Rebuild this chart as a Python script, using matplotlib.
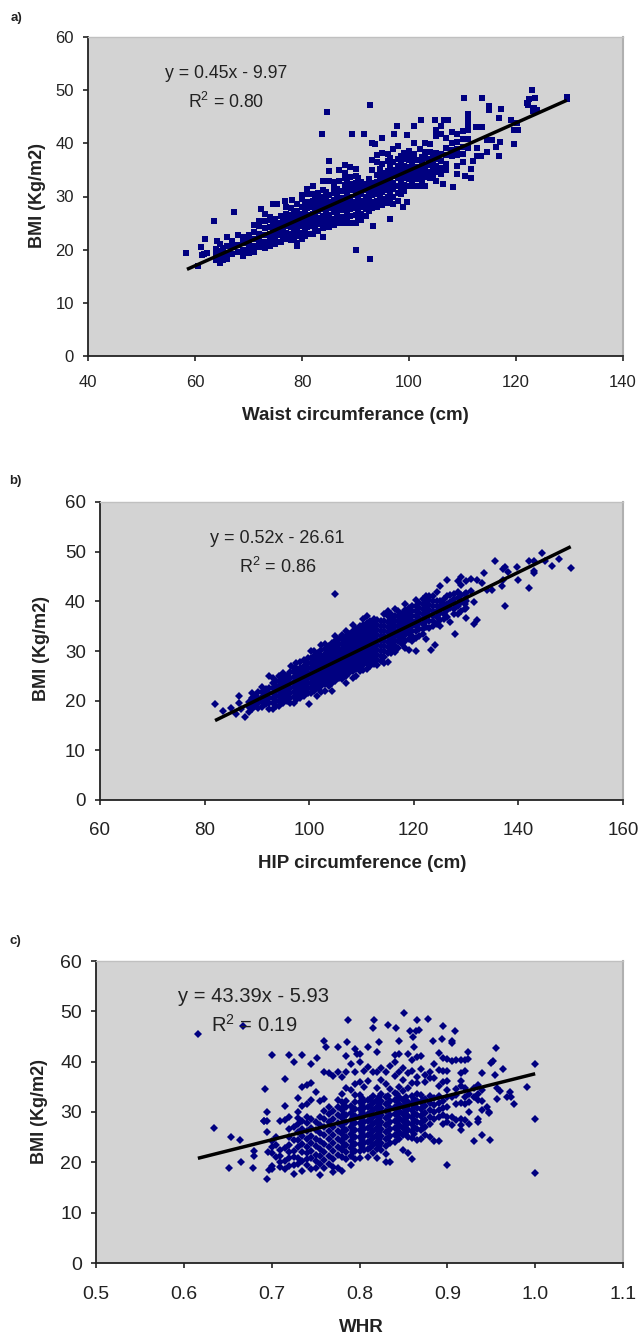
import matplotlib
matplotlib.use("Agg")
import matplotlib.pyplot as plt

plt.rcParams['font.family'] = ['Liberation Sans', 'DejaVu Sans']
plt.rcParams['mathtext.default'] = 'regular'

W, H = 641, 1336

# Panel a: waist vs BMI (column of points per waist value)
waist_rows = [
    (64, [18, 19, 20.2]), (64.6, [17.5, 18.6, 19.8, 21]), (65.3, [18, 19.2, 20.4]),
    (66, [18.2, 19.4, 20.6, 22.3]), (67, [19.2, 20.5, 21.7]), (68, [19.5, 20.8, 22.7]),
    (69, [18.8, 20, 21.2, 22.4]), (70, [19.3, 20.5, 21.7, 22.8]),
    (71, [19.5, 20.7, 22, 23.4, 24.6]), (72, [20.5, 21.7, 23, 24.4, 25.4]),
    (73, [20.3, 21.5, 22.8, 24, 25.3, 26.7]), (74, [20.6, 21.8, 23, 24.2, 25.5, 26.2]),
    (75, [21, 22.2, 23.4, 24.6, 25.8]), (76, [21.5, 22.7, 23.9, 25, 26.3]),
    (77, [22, 23.2, 24.4, 25.6, 26.8, 28]), (78, [21.8, 23, 24.2, 25.4, 26.6, 27.8]),
    (79, [20.6, 21.3, 22.5, 23.7, 24.9, 26.1, 27.3, 28.5]),
    (80, [22, 23.2, 24.4, 25.6, 26.8, 28, 29.5, 30.3]),
    (81, [23, 24.2, 25.4, 26.6, 27.8, 29, 30.5, 31.5]),
    (82, [23, 24.4, 25.6, 26.8, 28, 29.2, 30.4, 32]),
    (83, [23.5, 24.8, 26, 27.2, 28.4, 29.6, 30.6]),
    (84, [24, 25.2, 26.4, 27.6, 28.8, 30, 31.2, 33]),
    (85, [24.2, 25.4, 26.6, 27.8, 29, 30.2, 33, 34.8, 36.6]),
    (86, [24.6, 25.8, 27, 28.2, 29.4, 30.6, 31.8, 32.8]),
    (87, [25, 26.2, 27.4, 28.6, 29.8, 31, 33, 35]),
    (88, [25, 26.2, 27.4, 28.6, 29.8, 31, 32.2, 33.4, 34.4, 36]),
    (89, [25, 26.4, 27.6, 28.8, 30, 31.2, 32.4, 33.6, 35.5]),
    (90, [25, 26.6, 27.8, 29, 30.2, 31.4, 32.6, 33.8, 35.2]),
    (91, [25.6, 26.8, 28, 29.2, 30.4, 31.6, 32.8]),
    (92, [26.4, 27.6, 28.8, 30, 31.2, 32.4]),
    (93, [27.8, 29, 30.2, 31.4, 32.6, 35, 36.8]),
    (94, [28, 29.2, 30.4, 31.6, 32.8, 34, 36.5, 37.8]),
    (95, [28.4, 29.6, 30.8, 32, 33.2, 34.4, 36.2, 38.2]),
    (96, [28.8, 30, 31.2, 32.4, 33.6, 34.8, 36.6, 38]),
    (97, [28.5, 30, 31.4, 32.6, 33.8, 35, 36.4, 39]),
    (98, [29.2, 30.6, 32, 33.4, 34.6, 35.8, 37, 39.5]),
    (99, [31, 32.2, 33.4, 34.6, 35.8, 37, 38.2]),
    (100, [32, 33.2, 34.4, 35.6, 36.8, 38, 38.6]),
    (101, [32, 33.2, 34.4, 35.6, 36.8, 38, 40]),
    (102, [32, 33.2, 34.4, 35.6, 36.8, 39]),
    (103, [32, 33.6, 34.8, 36, 37.2, 38.4, 40]),
    (104, [33.5, 34.7, 35.9, 37.1, 38.3, 39.8]),
    (105, [33, 34.6, 35.8, 37, 38.2, 41.3, 42.5]),
    (106, [34.2, 35.4, 36.6, 38, 41.8, 43.2]),
    (107, [35, 36.2, 37.8, 39.2, 41]),
    (108, [37.6, 38.8, 40, 42.2]),
    (109, [34.3, 35.7, 37.8, 39, 40.2, 41.8]),
    (110, [36.4, 38, 39.4, 40.8, 42.4]),
    (111, [39.2, 40.8, 42.5, 43.5, 44.5, 45.5]),
]
waist_fill_rows = [
    (74.5, [21.2, 22.4, 23.6, 24.8]), (76.5, [22.1, 23.3, 24.5, 25.7]), (78.5, [22.4, 23.6, 24.8, 26, 27.2]),
    (80.5, [22.6, 23.8, 25, 26.2, 27.4, 28.6]), (82.5, [24, 25.2, 26.4, 27.6, 28.8, 30]),
    (84.5, [24.8, 26, 27.2, 28.4, 29.6, 30.8]), (86.5, [25.4, 26.6, 27.8, 29, 30.2, 31.4]),
    (88.5, [25.6, 26.8, 28, 29.2, 30.4, 31.6, 32.8]), (90.5, [26.2, 27.4, 28.6, 29.8, 31, 32.2, 33.4]),
    (92.5, [27.2, 28.4, 29.6, 30.8, 32, 33.2]), (94.5, [29, 30.2, 31.4, 32.6, 33.8, 35.2]),
    (96.5, [29.6, 30.8, 32, 33.2, 34.4, 35.6, 37.2]), (98.5, [30.4, 31.6, 32.8, 34, 35.2, 36.4, 37.6]),
    (100.5, [32.6, 33.8, 35, 36.2, 37.4]), (102.5, [32.6, 33.8, 35, 36.2, 37.4]),
    (104.5, [34, 35.2, 36.4, 37.6]),
]
waist_extra_x = [58.3, 60.5, 61.2, 61.3, 61.7, 61.8, 62.3, 63.5, 64.2, 67.2, 72.3, 74.5, 75.3, 76.8, 78.2,
                 84.7, 83.7, 92.8, 89.3, 91.6, 93, 93.6, 95, 97.2, 97.8, 99.7, 100.9, 102.3, 104.8, 106.5,
                 107.2, 110.3, 113.7, 115, 115, 117.2, 116.9, 119, 120.2, 119.7, 120.3, 119.7, 117, 116.9,
                 122, 122.5, 123, 123.3, 123.6, 123.2, 124, 129.6, 129.6, 90, 92.8, 96.4, 93.3, 84, 98.9,
                 99.7, 108.3, 106.4, 110.5, 111.6, 111.5, 111.9, 114.5, 113.5, 112.8, 112.8, 112.5, 113.7,
                 114.5, 115.5, 116.2, 122.3, 81, 82.5]
waist_extra_bmi = [19.3, 17, 20.5, 19, 19.2, 22, 19.4, 25.3, 21.7, 27.1, 27.7, 28.5, 28.5, 29.1, 29.4,
                   45.9, 41.8, 47.3, 41.8, 41.8, 40, 39.8, 41, 41.8, 43.2, 41.5, 43.2, 44.4, 44.4, 44.4,
                   44.4, 48.5, 48.5, 47, 46.3, 46.5, 44.7, 44.4, 43.9, 42.5, 42.5, 39.8, 40.3, 37.7,
                   47.5, 48.3, 50, 46.7, 48.5, 46, 46.3, 48.7, 48.4, 20, 18.2, 25.7, 24.5, 22.3, 28,
                   29, 31.8, 32.3, 33.8, 33.5, 35.2, 36.6, 38.3, 37.7, 37.7, 39.2, 43, 43, 40.6, 40.6, 39.3, 47.2,
                   23, 23.5]
waist_line_x = [58.5, 129.5]
waist_line_bmi = [16.3, 48.1]

# Panel b: hip vs BMI
hip_rows = [
    (88.4, [17.8, 18.8, 19.8]), (89, [18.4, 19.4, 20.5, 21.5]), (90.3, [18.6, 19.6, 20.6, 21.8]),
    (91, [18.8, 19.8, 20.8, 21.8, 22.8]), (92.4, [18.4, 19.6, 20.6, 21.6, 22.6]),
    (93, [18.4, 19.5, 20.5, 21.5, 22.5, 23.6, 24.6]), (94.3, [19, 20, 21, 22, 23, 24, 25]),
    (95, [19.5, 20.5, 21.5, 22.5, 23.5, 24.5, 25.5]), (96.4, [19.5, 20.6, 21.6, 22.6, 23.6, 24.6, 25.8]),
    (97, [19.6, 20.8, 21.8, 22.8, 23.8, 24.8, 25.8, 26.6]), (98.3, [20.6, 21.6, 22.6, 23.6, 24.6, 25.6, 26.6, 27.8]),
    (99, [21, 22, 23, 24, 25, 26, 27, 28.2]), (100.4, [21.6, 22.6, 23.6, 24.6, 25.6, 26.6, 27.6, 28.6, 30]),
    (101, [22, 23, 24, 25, 26, 27, 28, 29, 30]), (102.3, [21.8, 23, 24, 25, 26, 27, 28, 29, 30.2, 31.2]),
    (103, [22, 23.4, 24.4, 25.4, 26.4, 27.4, 28.4, 29.4, 30.4, 31.4]),
    (104.4, [22, 23.6, 24.6, 25.6, 26.6, 27.6, 28.6, 29.6, 30.6, 31.6]),
    (105, [24, 25, 26, 27, 28, 29, 30, 31, 32, 33]),
    (106.3, [24.4, 25.4, 26.4, 27.4, 28.4, 29.4, 30.4, 31.4, 32.4, 33.2]),
    (107, [23.6, 25, 26, 27, 28, 29, 30, 31, 32, 33, 34]),
    (108.4, [24.6, 26, 27, 28, 29, 30, 31, 32, 33, 34, 35.2]),
    (109, [25, 26.4, 27.4, 28.4, 29.4, 30.4, 31.4, 32.4, 33.4, 34.4]),
    (110.3, [26.2, 27.2, 28.2, 29.2, 30.2, 31.2, 32.2, 33.2, 34.2, 35.2, 36.5]),
    (111, [26.4, 27.6, 28.6, 29.6, 30.6, 31.6, 32.6, 33.6, 34.6, 35.6, 37]),
    (112.4, [27.4, 28.6, 29.6, 30.6, 31.6, 32.6, 33.6, 34.6, 35.6, 36.4]),
    (113, [27.2, 28.2, 29.2, 30.2, 31.2, 32.2, 33.2, 34.2, 35.2, 36.2]),
    (114.3, [27.6, 28.8, 30, 31, 32, 33, 34, 35, 36, 37.4]),
    (115, [27.8, 29.6, 30.8, 31.8, 32.8, 33.8, 34.8, 35.8, 37, 38]),
    (116.4, [29.8, 31, 32, 33, 34, 35, 36, 37, 38.4]),
    (117, [30.6, 32, 33, 34, 35, 36, 37, 38]),
    (118.3, [30.6, 32, 33.2, 34.2, 35.2, 36.2, 37.2, 38.2, 39.5]),
    (119, [30.2, 32.4, 33.6, 34.6, 35.6, 36.6, 37.6, 38.6]),
    (120.4, [30, 32.6, 34, 35, 36, 37, 38, 39, 40.2]),
    (121, [33, 34.4, 35.6, 36.6, 37.6, 38.6, 39.6]),
    (122.3, [32.5, 34.8, 36, 37, 38, 39, 40, 41]),
    (123, [34.6, 36, 37.2, 38.2, 39.2, 40.2, 41]),
    (124.4, [35.4, 36.8, 38, 39, 40, 41.8]),
    (125, [35, 36.2, 37.6, 38.8, 40, 43]),
    (126.3, [36.8, 38.2, 39.4, 41, 44.2]),
    (127, [35.8, 38.6, 39.8, 41.2]),
    (128.4, [37.4, 39, 40.6, 41.8, 44]),
    (129, [38, 39.8, 41.2, 43.2, 45]),
    (130, [36.6, 38.6, 40, 41.6, 44]),
]
hip_fill_rows = [
    (89.7, [18.9, 19.9, 21]), (91.7, [19.3, 20.3, 21.3, 22.3]), (93.7, [19, 20, 21, 22, 23, 24]),
    (95.7, [20, 21, 22, 23, 24, 25]), (97.7, [20.3, 21.3, 22.3, 23.3, 24.3, 25.3, 26.3]),
    (99.7, [21.5, 22.5, 23.5, 24.5, 25.5, 26.5, 27.5, 28.5]), (101.7, [22.5, 23.5, 24.5, 25.5, 26.5, 27.5, 28.5, 29.5]),
    (103.7, [23, 24, 25, 26, 27, 28, 29, 30, 31]), (105.7, [24.5, 25.5, 26.5, 27.5, 28.5, 29.5, 30.5, 31.5, 32.5]),
    (107.7, [25.5, 26.5, 27.5, 28.5, 29.5, 30.5, 31.5, 32.5, 33.5]), (109.7, [26, 27, 28, 29, 30, 31, 32, 33, 34, 35]),
    (111.7, [27, 28, 29, 30, 31, 32, 33, 34, 35, 36]), (113.7, [28, 29, 30, 31, 32, 33, 34, 35, 36]),
    (115.7, [29.5, 30.5, 31.5, 32.5, 33.5, 34.5, 35.5, 36.5, 37.5]), (117.7, [31.5, 32.5, 33.5, 34.5, 35.5, 36.5, 37.5]),
    (119.7, [32, 33, 34, 35, 36, 37, 38, 39]), (121.7, [33.5, 34.5, 35.5, 36.5, 37.5, 38.5, 39.5, 40.5]),
    (123.7, [35, 36, 37, 38, 39, 40, 41]), (125.7, [36.5, 37.5, 38.5, 39.5, 40.5]),
    (127.7, [37.5, 38.5, 39.5, 40.5, 41.5]), (129.7, [38.5, 39.5, 40.5, 41.5]),
]
hip_extra_x = [82, 83.5, 85, 86, 86.5, 86.5, 87.7, 87, 92.3, 100, 101.5, 105, 123.2, 124, 127.8, 131.5, 132,
               137.5, 142, 135.5, 137, 137.5, 138, 139.8, 140, 142, 143, 143, 143, 144.5, 145, 146.5, 147.8,
               150, 133.5, 131, 132, 133, 134, 135, 136.8, 137, 131, 131.5, 96.5, 97.5]
hip_extra_bmi = [19.4, 18, 18.5, 17.3, 19.5, 21, 16.7, 18.4, 25, 19.4, 21, 41.5, 30.3, 31.2, 33.4, 35.5, 36.2,
                 39, 42.7, 48.2, 46.5, 47, 46, 47, 44.2, 48.2, 48.2, 46.2, 45.7, 49.7, 48.2, 47.2, 48.5,
                 46.7, 45.8, 44.5, 44.2, 43.7, 42.2, 42.2, 43, 44.2, 42, 39.8, 27, 27.5]
hip_line_x = [82, 150]
hip_line_bmi = [16, 51]

# Panel c: WHR vs BMI
whr_rows = [
    (0.70, [18.6, 19.2, 21.8, 23, 24.2]), (0.705, [21, 23.5, 25]),
    (0.71, [19, 20, 21.2, 22.4, 28.3]), (0.715, [18.6, 20.2, 22.8, 28.4, 31.2, 36.5]),
    (0.72, [19.2, 20.8, 22, 23.4, 25, 26.6, 29]), (0.725, [17.7, 19.4, 21, 22.2, 24.4, 27]),
    (0.73, [19.6, 20.8, 23, 24.4, 26, 27.6, 28.8, 30, 32.7]), (0.735, [18.2, 20.2, 22, 23.6, 25.2, 26.6, 28.2, 31.2, 35]),
    (0.74, [19.4, 20.6, 21.8, 23, 24.6, 26.2, 27.8, 29, 31.6, 35.4]),
    (0.745, [18.6, 20.8, 22.2, 23.8, 25.2, 26.8, 28.6, 32.4, 35.8]),
    (0.75, [18.8, 20.2, 21.4, 23.2, 24.6, 26.4, 28, 34]),
    (0.755, [17.4, 19.6, 21.2, 22.6, 24.2, 25.8, 27.4, 29, 32.2]),
    (0.76, [18.8, 20.4, 22, 23.6, 25.4, 27, 28.6, 30.2, 32.6, 38]),
    (0.765, [19.6, 21.2, 23, 24.6, 26.2, 28, 29.6, 31, 37.8]),
    (0.77, [18, 19, 20.6, 22.2, 23.8, 25.4, 27, 28.6, 30.2, 37.2]),
    (0.775, [18.8, 21.4, 23, 24.6, 26.2, 27.8, 29.4, 31, 32.4, 38]),
    (0.78, [18.2, 21, 22.4, 24, 25.6, 27.2, 28.8, 30.4, 32, 33.6, 37]),
    (0.785, [20.6, 22, 23.4, 25, 26.4, 28, 29.4, 31, 32.2, 34.8, 38]),
    (0.79, [19.4, 21.2, 22.8, 24.2, 25.6, 27, 28.4, 29.8, 31.2, 34.4, 39.6]),
    (0.795, [20.6, 22.2, 23.6, 25, 26.4, 27.8, 29.2, 30.6, 32, 33.4, 35.6, 38]),
    (0.80, [20.8, 22.2, 23.6, 25, 26.4, 27.8, 29.2, 30.6, 32, 33.4, 36, 40, 41.5]),
    (0.805, [22.4, 23.8, 25.2, 26.6, 28, 29.4, 30.8, 32.2, 35, 38.2]),
    (0.81, [21, 22.6, 24, 25.4, 26.8, 28.2, 29.6, 31, 32.4, 36.2, 39]),
    (0.815, [21.8, 23.4, 24.8, 26.2, 27.6, 29, 30.4, 31.8, 33.2, 38]),
    (0.82, [20.8, 22.6, 24, 25.4, 26.8, 28.2, 29.6, 31, 32.4, 34.8, 38]),
    (0.825, [22.4, 23.8, 25.2, 26.6, 28, 29.4, 30.8, 32.2, 33.6, 36.4, 38.8]),
    (0.83, [20, 21.6, 23.2, 24.6, 26, 27.4, 28.8, 30.2, 31.6, 33, 35.6, 38]),
    (0.835, [20, 23.8, 25.2, 26.6, 28, 29.4, 30.8, 32.2, 34.6, 39.2]),
    (0.84, [24, 25.4, 26.8, 28.2, 29.6, 31, 32.4, 33.8, 37.2, 40, 41.4]),
    (0.845, [24.6, 26, 27.4, 28.8, 30.2, 31.6, 33, 35, 38, 41.6]),
    (0.85, [22.4, 25.4, 26.8, 28.2, 29.6, 31, 32.4, 34.2, 36.4, 38.8]),
    (0.855, [21.8, 25, 26.4, 27.8, 29.2, 30.6, 32, 34.8, 37.8, 41.6]),
    (0.86, [20.6, 24.8, 26.2, 27.6, 29, 30.4, 31.8, 33.2, 35.8, 38.2, 40.4]),
    (0.865, [24.4, 26.6, 28, 29.4, 30.8, 32.2, 33.6, 35.8, 37, 41]),
    (0.87, [24.6, 26.4, 27.8, 29.2, 30.6, 32, 33.4, 38.6, 41.2]),
    (0.875, [25.4, 27, 28.4, 29.8, 31.2, 32.6, 36, 37.4]),
    (0.88, [25, 27.6, 29, 30.4, 31.8, 33.2, 36.8, 38]),
    (0.885, [24.2, 28.6, 30, 31.4, 32.8, 36.8, 39.6]),
    (0.89, [24.2, 29, 30.4, 31.8, 33.2, 35.2, 38.4, 41.8]),
    (0.895, [27.6, 29.4, 30.8, 32.2, 36, 38.2, 40.8]),
    (0.90, [28, 29, 31, 33, 34.4, 36.2, 38.2, 40.5]),
    (0.905, [27.4, 29, 33, 40.2]),
    (0.91, [28.4, 31.6, 33.4, 34.6, 40.4]),
    (0.915, [26.4, 27.4, 28.6, 31.8, 35.2, 36.2, 37.8, 40.4]),
    (0.92, [28.4, 31.6, 33, 34.8, 38.2, 40.4]),
    (0.925, [27.6, 30, 32, 33.6]),
    (0.93, [24.2, 33, 34.8]),
    (0.935, [28, 28.6, 32.4, 33.6, 35.4]),
    (0.94, [25.4, 32.2, 34.4, 37.8]),
]
whr_fill_rows = [
    (0.7825, [23.2, 24.8, 26.4, 28, 29.6, 31.2]), (0.7925, [22, 23.5, 25, 26.3, 27.7, 29.1, 30.5]),
    (0.8025, [23, 24.4, 25.8, 27.2, 28.6, 30, 31.4, 32.8]), (0.8125, [22.8, 24.2, 25.6, 27, 28.4, 29.8, 31.2, 32.6]),
    (0.8225, [23.2, 24.6, 26, 27.4, 28.8, 30.2, 31.6, 33]), (0.8325, [24.8, 26.2, 27.6, 29, 30.4, 31.8, 33.2]),
    (0.8425, [25.2, 26.6, 28, 29.4, 30.8, 32.2, 33.6]), (0.8525, [26, 27.4, 28.8, 30.2, 31.6, 33]),
    (0.8625, [25.6, 27, 28.4, 29.8, 31.2, 32.6]), (0.8725, [26.8, 28.2, 29.6, 31, 32.4]),
]
whr_extra_x = [0.616, 0.634, 0.651, 0.654, 0.664, 0.665, 0.667, 0.679, 0.68, 0.68, 0.691, 0.692, 0.695, 0.695,
               0.695, 0.695, 0.696, 0.697, 0.70, 0.691, 0.72, 0.725, 0.735, 0.745, 0.752, 0.762, 0.76, 0.775,
               0.785, 0.787, 0.786, 0.795, 0.797, 0.81, 0.815, 0.817, 0.82, 0.822, 0.833, 0.842, 0.845, 0.851,
               0.857, 0.861, 0.862, 0.864, 0.865, 0.868, 0.878, 0.884, 0.894, 0.895, 0.905, 0.905, 0.909, 0.90,
               0.923, 0.923, 0.945, 0.948, 0.949, 0.95, 0.952, 0.954, 0.955, 0.956, 0.957, 0.96, 0.963, 0.968,
               0.971, 0.973, 0.976, 0.991, 1.0, 1.0, 1.0, 0.94, 0.947]
whr_extra_bmi = [45.4, 26.9, 18.8, 25, 24.4, 20, 47, 18.8, 22.2, 21.2, 28.2, 34.6, 30, 28.2, 26, 16.7,
                 22, 18.5, 41.4, 28.2, 41.4, 39.9, 41.4, 39.6, 40.8, 43, 44.2, 43, 41.2, 48.2, 43.9, 42.6,
                 41.5, 43, 46.7, 48.2, 42, 44, 47.3, 46.7, 44.2, 49.7, 46, 45, 43, 46, 48.2, 46.3, 48.5,
                 44.2, 44.5, 47, 43.7, 44.2, 46, 19.4, 42, 40.5, 31, 30, 24.4, 39.7, 40.2, 37.4, 42.7, 34.8, 32.5,
                 34.2, 38.6, 33, 34, 33, 31.6, 34.9, 39.6, 28.7, 17.9, 30.4, 29.9]
whr_line_x = [0.616, 1.0]
whr_line_bmi = [20.8, 37.6]

bmi_ticks = [0, 10, 20, 30, 40, 50, 60]


def flatten(rows, extra_x, extra_y):
    xs = [r[0] for r in rows for _ in r[1]] + extra_x
    ys = [v for r in rows for v in r[1]] + extra_y
    return xs, ys


def panel(box, rows, extra_x, extra_y, line_x, line_y, xlim, xticks, xfmt, marker, ms, tick_fs, xpad):
    left, right, top, bottom = box
    ax = fig.add_axes([left / W, 1 - bottom / H, (right - left) / W, (bottom - top) / H], facecolor="#d3d3d3")
    xs, ys = flatten(rows, extra_x, extra_y)
    ax.plot(xs, ys, ls="none", marker=marker, ms=ms, color="#000080", mew=0)
    ax.plot(line_x, line_y, color="black", lw=2.5, solid_capstyle="butt")
    ax.set_xlim(*xlim)
    ax.set_ylim(0, 60)
    ax.set_xticks(xticks)
    ax.set_xticklabels([xfmt % t for t in xticks])
    ax.set_yticks(bmi_ticks)
    ax.tick_params(length=3.6, width=1.2, color="#222222", labelsize=tick_fs, labelcolor="#222222")
    ax.tick_params(axis="x", pad=xpad)
    ax.tick_params(axis="y", pad=6.5)
    ax.spines["top"].set_color("#c0c0c0")
    ax.spines["top"].set_linewidth(1)
    ax.spines["right"].set_color("#b0b0b0")
    ax.spines["right"].set_linewidth(1.5)
    for s in ("left", "bottom"):
        ax.spines[s].set_color("#222222")
        ax.spines[s].set_linewidth(1.3)
    return ax


def txt(x, y, s, **kw):
    fig.text(x / W, 1 - y / H, s, ha="center", va="center", color="#222222", **kw)


fig = plt.figure(figsize=(W / 100, H / 100), dpi=100, facecolor="white")

panel((88, 623, 37, 356), waist_rows + waist_fill_rows, waist_extra_x, waist_extra_bmi, waist_line_x, waist_line_bmi,
      (40, 140), [40, 60, 80, 100, 120, 140], "%d", "s", 4.7, 12, 10)
panel((100, 623, 502, 800), hip_rows + hip_fill_rows, hip_extra_x, hip_extra_bmi, hip_line_x, hip_line_bmi,
      (60, 160), [60, 80, 100, 120, 140, 160], "%d", "D", 4.0, 13.5, 12)
panel((96, 623, 961, 1263), whr_rows + whr_fill_rows, whr_extra_x, whr_extra_bmi, whr_line_x, whr_line_bmi,
      (0.5, 1.1), [0.5, 0.6, 0.7, 0.8, 0.9, 1.0, 1.1], "%.1f", "D", 4.0, 14, 13)

# Axis titles and annotations
txt(355, 415, "Waist circumferance (cm)", fontsize=13.5, fontweight="bold")
txt(362, 863, "HIP circumference (cm)", fontsize=13.5, fontweight="bold")
txt(361, 1328, "WHR", fontsize=13.5, fontweight="bold")
txt(37, 195, "BMI (Kg/m2)", fontsize=13, fontweight="bold", rotation=90)
txt(41, 649, "BMI (Kg/m2)", fontsize=13, fontweight="bold", rotation=90)
txt(39, 1112, "BMI (Kg/m2)", fontsize=13, fontweight="bold", rotation=90)
txt(16.5, 18, "a)", fontsize=9.5, fontweight="bold")
txt(15, 481, "b)", fontsize=9.5, fontweight="bold")
txt(15.5, 941, "c)", fontsize=9.5, fontweight="bold")

txt(226, 74, "y = 0.45x - 9.97", fontsize=12.7)
txt(226, 102, "R$^2$ = 0.80", fontsize=12.7)
txt(277, 539, "y = 0.52x - 26.61", fontsize=13)
txt(278, 567, "R$^2$ = 0.86", fontsize=13)
txt(253, 996, "y = 43.39x - 5.93", fontsize=14.5)
txt(254, 1025, "R$^2$ = 0.19", fontsize=14.5)

fig.savefig("out.png", dpi=100)
